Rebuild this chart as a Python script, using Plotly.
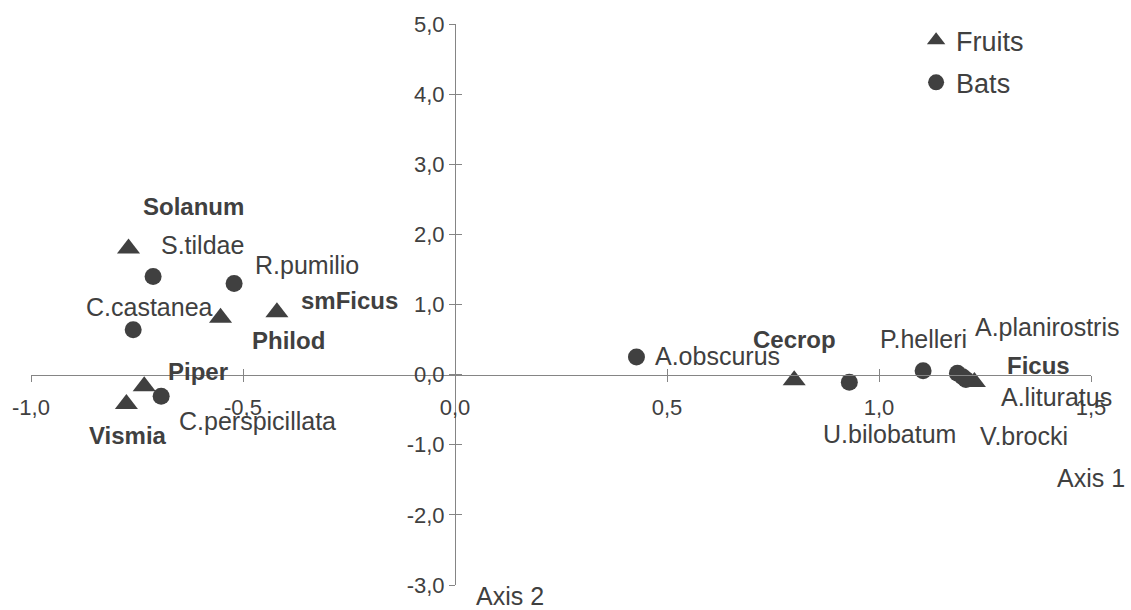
import plotly.graph_objects as go

# ---------------- data ----------------
fruit_names = ["Solanum", "smFicus", "Philod", "Piper", "Vismia", "Cecrop", "Ficus"]
fruit_x = [-0.77, -0.42, -0.553, -0.733, -0.775, 0.80, 1.225]
fruit_y = [1.80, 0.89, 0.81, -0.165, -0.42, -0.08, -0.105]

bat_names = ["S.tildae", "R.pumilio", "C.castanea", "C.perspicillata", "A.obscurus",
             "U.bilobatum", "P.helleri", "A.planirostris", "A.lituratus", "V.brocki"]
bat_x = [-0.712, -0.521, -0.759, -0.693, 0.428, 0.93, 1.104, 1.185, 1.205, 1.197]
bat_y = [1.40, 1.30, 0.64, -0.31, 0.25, -0.11, 0.056, 0.02, -0.07, -0.03]

x_ticks = [-1.0, -0.5, 0.0, 0.5, 1.0, 1.5]
y_ticks = [-3.0, -2.0, -1.0, 0.0, 1.0, 2.0, 3.0, 4.0, 5.0]
x_ticktext = [f"{v:.1f}".replace(".", ",") for v in x_ticks]
y_ticktext = [f"{v:.1f}".replace(".", ",") for v in y_ticks]

# ---------------- styles ----------------
INK = "#404040"
AXIS = "#858585"
FONT = "Liberation Sans, Arial, sans-serif"

# label placement: (xanchor, xshift px, yshift px)
fruit_lbl = {
    "Solanum": ("center", 65, 42),
    "smFicus": ("left", 22, 12),
    "Philod": ("center", 68, -23),
    "Piper": ("left", 22, 15),
    "Vismia": ("center", 2, -31),
    "Cecrop": ("center", 0, 41),
    "Ficus": ("left", 31, 16),
}
bat_lbl = {
    "S.tildae": ("left", 6, 31),
    "R.pumilio": ("left", 19, 18),
    "C.castanea": ("center", 16, 23),
    "C.perspicillata": ("left", 16, -25),
    "A.obscurus": ("left", 17, 1),
    "U.bilobatum": ("center", 40, -52),
    "P.helleri": ("center", 0, 32),
    "A.planirostris": ("left", 16, 46),
    "A.lituratus": ("left", 33, -17),
    "V.brocki": ("left", 15, -59),
}

fig = go.Figure()
fig.add_trace(go.Scatter(
    x=fruit_x, y=fruit_y, mode="markers", name="Fruits",
    marker=dict(symbol="triangle-up", size=20, color=INK),
    legendgroup="f", cliponaxis=False))
fig.add_trace(go.Scatter(
    x=bat_x, y=bat_y, mode="markers", name="Bats",
    marker=dict(symbol="circle", size=17, color=INK),
    legendgroup="b", cliponaxis=False))
# invisible trace to activate the overlay axes (cross ticks)
fig.add_trace(go.Scatter(x=[None], y=[None], xaxis="x2", yaxis="y2",
                         showlegend=False, hoverinfo="skip"))

annotations = []
for n, x, y in zip(fruit_names, fruit_x, fruit_y):
    xa, xs, ys = fruit_lbl[n]
    annotations.append(dict(x=x, y=y, xref="x", yref="y", text=n, showarrow=False,
                            xanchor=xa, yanchor="middle", xshift=xs, yshift=ys,
                            font=dict(family=FONT, size=24, color=INK, weight="bold")))
for n, x, y in zip(bat_names, bat_x, bat_y):
    xa, xs, ys = bat_lbl[n]
    annotations.append(dict(x=x, y=y, xref="x", yref="y", text=n, showarrow=False,
                            xanchor=xa, yanchor="middle", xshift=xs, yshift=ys,
                            font=dict(family=FONT, size=25, color=INK)))
annotations.append(dict(x=1.5, y=-1.48, xref="x", yref="y", text="Axis 1", showarrow=False,
                        xanchor="center", yanchor="middle",
                        font=dict(family=FONT, size=25, color=INK)))
annotations.append(dict(x=0.045, y=-0.02, xref="x", yref="paper", text="Axis 2", showarrow=False,
                        xanchor="left", yanchor="middle",
                        font=dict(family=FONT, size=25, color=INK)))

xr = [-1.0, 1.5]
yr = [-3.0, 5.0]
xpos = (0 - yr[0]) / (yr[1] - yr[0])
ypos = (0 - xr[0]) / (xr[1] - xr[0])

common_x = dict(range=xr, tickvals=x_ticks, showgrid=False, zeroline=False,
                ticklen=6, tickwidth=1, tickcolor=AXIS)
common_y = dict(range=yr, tickvals=y_ticks, showgrid=False, zeroline=False,
                ticklen=6, tickwidth=1, tickcolor=AXIS)

fig.update_layout(
    width=1131, height=610,
    margin=dict(l=30, r=40, t=17, b=25),
    paper_bgcolor="white", plot_bgcolor="white",
    font=dict(family=FONT, color=INK),
    showlegend=True,
    legend=dict(x=0.835, y=1.014, xanchor="left", yanchor="top",
                font=dict(family=FONT, size=27, color=INK),
                traceorder="grouped", tracegroupgap=4,
                bgcolor="rgba(0,0,0,0)"),
    xaxis=dict(**common_x, anchor="free", position=xpos, showline=True,
               linecolor=AXIS, linewidth=1, ticks="outside",
               ticktext=x_ticktext, ticklabelstandoff=7,
               tickfont=dict(family=FONT, size=22, color=INK)),
    yaxis=dict(**common_y, anchor="free", position=ypos, showline=True,
               linecolor=AXIS, linewidth=1, ticks="outside",
               ticktext=y_ticktext,
               tickfont=dict(family=FONT, size=22, color=INK)),
    xaxis2=dict(**common_x, overlaying="x", matches="x", anchor="free", position=xpos,
                showline=False, ticks="inside", showticklabels=False),
    yaxis2=dict(**common_y, overlaying="y", matches="y", anchor="free", position=ypos,
                showline=False, ticks="inside", showticklabels=False),
    annotations=annotations,
)

fig.write_html("out.html",
               config={"displayModeBar": False},
               post_script="document.body.style.margin='0px';"
                           "document.body.style.overflow='hidden';")
